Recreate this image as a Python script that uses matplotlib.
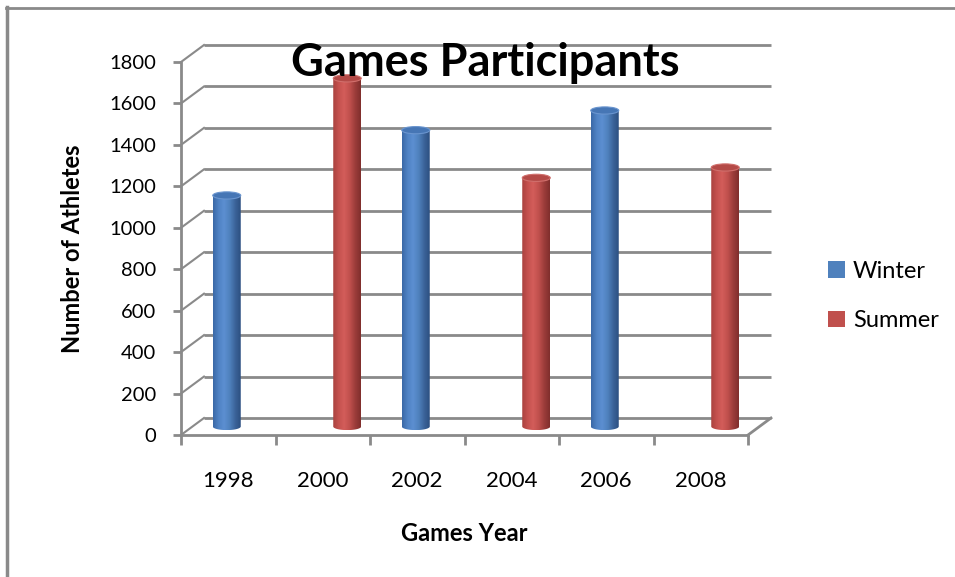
import numpy as np
import matplotlib
matplotlib.use("Agg")
import matplotlib.pyplot as plt
from matplotlib.path import Path
from matplotlib.patches import Ellipse, PathPatch, Patch
from matplotlib.colors import LinearSegmentedColormap
from matplotlib.lines import Line2D

plt.rcParams['font.family'] = ['Lato', 'DejaVu Sans']

# ---- data ----
years = ['1998', '2000', '2002', '2004', '2006', '2008']
winter = [1115, None, 1430, None, 1525, None]
summer = [None, 1680, None, 1200, None, 1250]
y_ticks = [0, 200, 400, 600, 800, 1000, 1200, 1400, 1600, 1800]
title = 'Games Participants'
x_label = 'Games Year'
y_label = 'Number of Athletes'

# ---- style ----
W, H = 955, 577
fig = plt.figure(figsize=(W / 100, H / 100), dpi=100)
ax_l, ax_r, ax_t, ax_b = 181, 748, 62, 435
ax = fig.add_axes([ax_l / W, 1 - ax_b / H, (ax_r - ax_l) / W, (ax_b - ax_t) / H])
ax.set_xlim(0, len(years))
ax.set_ylim(0, 1800)
ax.patch.set_visible(False)

grid_c = '#8a8a8a'
px_x = (ax_r - ax_l) / len(years)   # pixels per category
px_y = (ax_b - ax_t) / 1800          # pixels per unit

# depth offsets (pixels -> data units)
back_dx, back_dy = 23 / px_x, 17 / px_y
mid_dx, mid_dy = 11.5 / px_x, 8.5 / px_y

# back wall gridlines + side wall diagonals
n = len(years)
for t in y_ticks:
    ax.plot([back_dx, n + back_dx], [t + back_dy, t + back_dy], color=grid_c, lw=2,
            clip_on=False, zorder=1, solid_capstyle='butt')
    ax.plot([0, back_dx], [t, t + back_dy], color=grid_c, lw=1.5, clip_on=False, zorder=1)
# floor right edge
ax.plot([n, n + back_dx], [0, back_dy], color=grid_c, lw=2, clip_on=False, zorder=1)

# cylinders
slot = 13 / px_x
half_w = 14 / px_x
half_h = 3.6 / px_y

blue_cmap = LinearSegmentedColormap.from_list('b', ['#3a68a6', '#4f82c4', '#5c8fd1', '#4f81bd', '#3b6399', '#2c4f80'])
red_cmap = LinearSegmentedColormap.from_list('r', ['#a9413e', '#c4514e', '#d35d5a', '#c0504d', '#9b3c3a', '#7f2e2c'])


def cylinder(xc, v, cmap, top_fc, top_ec):
    x0, x1 = xc - half_w, xc + half_w
    y0 = mid_dy
    yt = v + mid_dy
    t = np.linspace(0, -np.pi, 40)
    verts = [(x0, y0), (x0, yt), (x1, yt), (x1, y0)]
    verts += list(zip(xc + half_w * np.cos(t), y0 + half_h * np.sin(t)))
    verts.append((x0, y0))
    codes = [Path.MOVETO] + [Path.LINETO] * (len(verts) - 2) + [Path.CLOSEPOLY]
    path = Path(verts, codes)
    grad = np.linspace(0, 1, 256).reshape(1, -1)
    im = ax.imshow(grad, cmap=cmap, aspect='auto', extent=(x0, x1, y0 - half_h, yt),
                   origin='lower', zorder=3, clip_on=True, interpolation='bilinear')
    pp = PathPatch(path, facecolor='none', edgecolor='none', transform=ax.transData)
    im.set_clip_path(pp)
    ax.add_patch(Ellipse((xc, yt), 2 * half_w, 2 * half_h, facecolor=top_fc, edgecolor=top_ec,
                         lw=0.8, zorder=4, clip_on=False))


for i, y in enumerate(years):
    c = i + 0.5 + mid_dx
    if winter[i] is not None:
        cylinder(c - slot, winter[i], blue_cmap, '#4676b5', '#6a95cf')
    if summer[i] is not None:
        cylinder(c + slot, summer[i], red_cmap, '#b44a47', '#d06f6c')

ax.set_xlim(0, n)
ax.set_ylim(0, 1800)

# spines / ticks
for s in ['top', 'right']:
    ax.spines[s].set_visible(False)
for s in ['left', 'bottom']:
    ax.spines[s].set_color(grid_c)
    ax.spines[s].set_linewidth(2)
    ax.spines[s].set_zorder(5)

ax.set_yticks(y_ticks)
ax.set_yticklabels([str(v) for v in y_ticks], fontsize=14.5)
ax.tick_params(axis='y', length=6, width=2, color=grid_c, pad=12)
ax.set_xticks(np.arange(n) + 0.5)
ax.set_xticklabels(years, fontsize=16)
ax.set_xticks(np.arange(n + 1), minor=True)
ax.tick_params(axis='x', which='major', length=0, pad=26)
ax.tick_params(axis='x', which='minor', length=7, width=2, color=grid_c)

ax.set_ylabel(y_label, fontsize=17, fontweight='bold', labelpad=18)
ax.set_xlabel(x_label, fontsize=17, fontweight='bold', labelpad=22)

fig.text(485 / W, 1 - 76 / H, title, fontsize=32.5, fontweight='bold', ha='center', va='baseline')

handles = [Patch(facecolor='#4f81bd'), Patch(facecolor='#c0504d')]
fig.legend(handles, ['Winter', 'Summer'], loc='center left', bbox_to_anchor=(807 / W, 1 - 296 / H),
           frameon=False, fontsize=17, handlelength=0.7, handleheight=0.7, handletextpad=0.35,
           labelspacing=1.2)

# outer frame (top and left edges)
fig.add_artist(Line2D([6 / W, 1], [1 - 8 / H, 1 - 8 / H], color=grid_c, lw=2, transform=fig.transFigure))
fig.add_artist(Line2D([7 / W, 7 / W], [0, 1 - 7 / H], color=grid_c, lw=2.5, transform=fig.transFigure))

fig.savefig('out.png', dpi=100)
